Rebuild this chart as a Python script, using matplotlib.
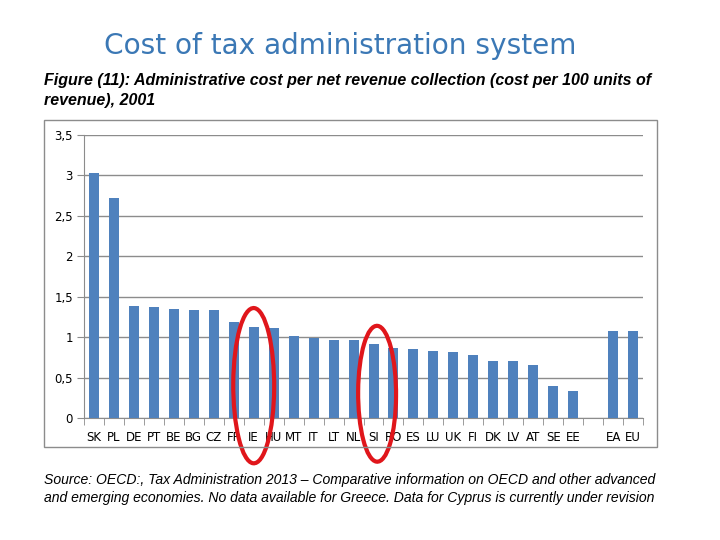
import matplotlib.pyplot as plt
from matplotlib.patches import Ellipse, Rectangle
from matplotlib.ticker import FuncFormatter

countries = ["SK", "PL", "DE", "PT", "BE", "BG", "CZ", "FR", "IE", "HU", "MT", "IT", "LT", "NL",
             "SI", "RO", "ES", "LU", "UK", "FI", "DK", "LV", "AT", "SE", "EE", "", "EA", "EU"]
cost = [3.03, 2.72, 1.39, 1.37, 1.35, 1.33, 1.33, 1.19, 1.13, 1.11, 1.01, 0.99, 0.97, 0.97,
        0.92, 0.86, 0.85, 0.83, 0.82, 0.78, 0.70, 0.70, 0.65, 0.39, 0.33, None, 1.08, 1.08]

fig = plt.figure(figsize=(7.2, 5.4), dpi=100)

fig.text(0.472, 0.915, "Cost of tax administration system", color="#3B78B5",
         fontsize=20.2, ha="center", va="center", family="DejaVu Sans")
fig.text(0.061, 0.851, "Figure (11): Administrative cost per net revenue collection (cost per 100 units of",
         fontsize=11.5, fontweight="bold", style="italic", family="Liberation Sans", va="center")
fig.text(0.061, 0.814, "revenue), 2001",
         fontsize=11.5, fontweight="bold", style="italic", family="Liberation Sans", va="center")
fig.text(0.061, 0.111, "Source: OECD:, Tax Administration 2013 \u2013 Comparative information on OECD and other advanced",
         fontsize=10.1, style="italic", family="Liberation Sans", va="center")
fig.text(0.061, 0.078, "and emerging economies. No data available for Greece. Data for Cyprus is currently under revision",
         fontsize=10.1, style="italic", family="Liberation Sans", va="center")

# chart border
fig.patches.append(Rectangle((0.061, 0.172), 0.851, 0.606, transform=fig.transFigure,
                             fill=False, edgecolor="#8c8c8c", linewidth=1))

ax = fig.add_axes([0.1167, 0.2259, 0.7764, 0.5241])
xs = [i for i, v in enumerate(cost) if v is not None]
vals = [v for v in cost if v is not None]
ax.bar(xs, vals, width=0.5, color="#4F81BD", zorder=3)

ax.set_xlim(-0.5, len(countries) - 0.5)
ax.set_ylim(0, 3.5)
ax.set_yticks([0, 0.5, 1, 1.5, 2, 2.5, 3, 3.5])
ax.yaxis.set_major_formatter(FuncFormatter(lambda v, p: f"{v:g}".replace(".", ",")))
ax.grid(axis="y", color="#8c8c8c", linewidth=1, zorder=0)

ax.set_xticks(range(len(countries)))
ax.set_xticklabels(countries)
ax.set_xticks([i - 0.5 for i in range(len(countries) + 1)], minor=True)
ax.tick_params(axis="x", which="major", length=0, pad=9, labelsize=8.5)
ax.tick_params(axis="x", which="minor", length=5, color="#8c8c8c", direction="out")
ax.tick_params(axis="y", length=5, color="#8c8c8c", labelsize=8.5, pad=3)

for s in ["top", "right"]:
    ax.spines[s].set_visible(False)
for s in ["left", "bottom"]:
    ax.spines[s].set_color("#8c8c8c")

ax.add_patch(Ellipse((8, 0.40), 2.05, 1.92, angle=-2, fill=False, edgecolor="#E0161B",
                     linewidth=3, clip_on=False, zorder=5))
ax.add_patch(Ellipse((14.18, 0.30), 1.9, 1.68, angle=-2, fill=False, edgecolor="#E0161B",
                     linewidth=3, clip_on=False, zorder=5))

plt.savefig("out.png", dpi=100)
